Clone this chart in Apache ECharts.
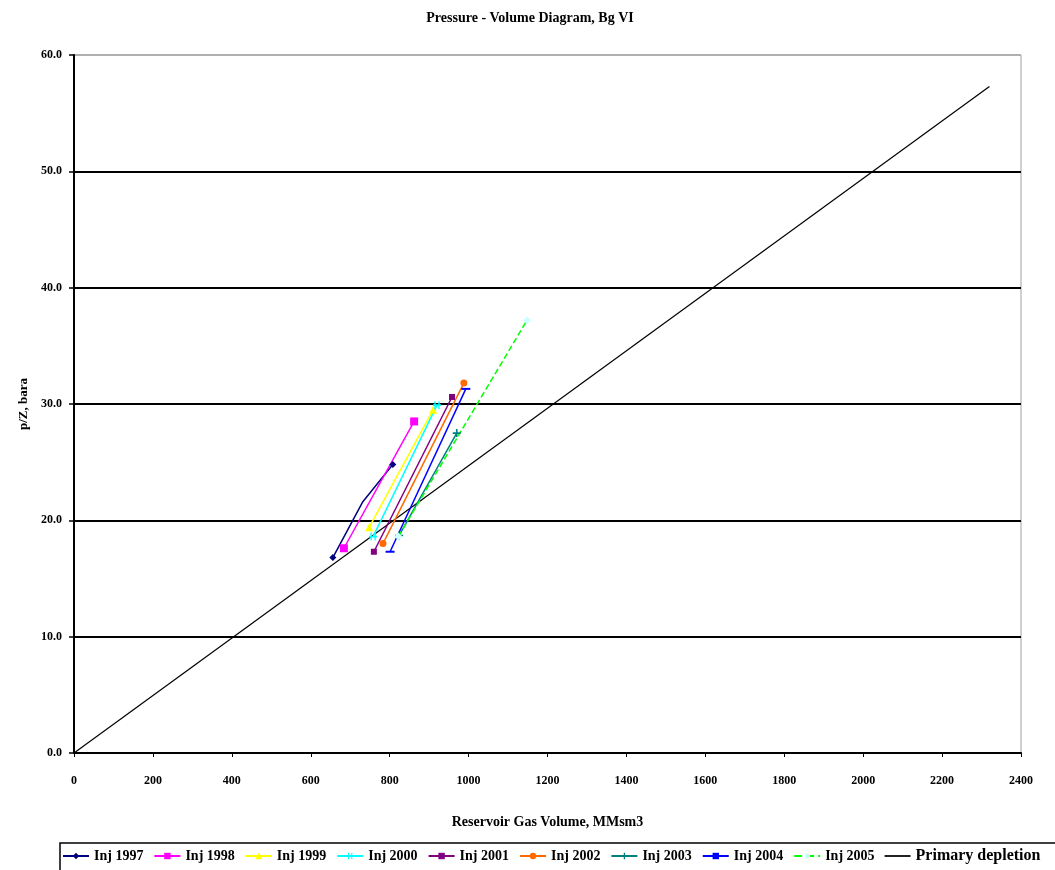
<!DOCTYPE html>
<html><head><meta charset="utf-8">
<script src="https://cdn.jsdelivr.net/npm/echarts@6/dist/echarts.min.js"></script>
<style>html,body{margin:0;padding:0;background:#fff}#c{width:1055px;height:870px}</style>
</head><body><div id="c"></div>
<script>
const seriesNames = ['Inj 1997','Inj 1998','Inj 1999','Inj 2000','Inj 2001','Inj 2002','Inj 2003','Inj 2004','Inj 2005','Primary depletion'];
const inj1997 = [[656,16.8],[732,21.6],[808,24.8]];
const inj1998 = [[684,17.6],[862,28.5]];
const inj1999 = [[748,19.4],[910,29.5]];
const inj2000 = [[758,18.6],[920,29.9]];
const inj2001 = [[760,17.3],[958,30.6]];
const inj2002 = [[783,18.0],[988,31.8]];
const inj2003 = [[824,18.7],[970,27.5]];
const inj2004 = [[801,17.3],[993,31.3]];
const inj2005 = [[822,18.6],[1148,37.2]];
const primary = [[0,0],[2320,57.3]];
const xTicks = [0,200,400,600,800,1000,1200,1400,1600,1800,2000,2200,2400];
const yTicks = [0,10,20,30,40,50,60];

const allData = [inj1997,inj1998,inj1999,inj2000,inj2001,inj2002,inj2003,inj2004,inj2005,primary];
const colors = ['#000080','#ff00ff','#ffff00','#00ffff','#800080','#ff6a00','#008080','#0000ff','#00ff00','#000000'];
const symColors = ['#000080','#ff00ff','#ffff00','#00ffff','#800080','#ff6a00','#008080','#0000ff','#ccffff','#000000'];
const symbols = ['diamond','rect','triangle','path://M0,0L2,0L2,10L0,10ZM6,0L8,0L8,10L6,10ZM-2,4L10,4L10,6L-2,6Z','rect','circle','path://M4,0L6,0L6,4L10,4L10,6L6,6L6,10L4,10L4,6L0,6L0,4L4,4Z','rect','diamond','none'];
const symSizes = [7,8,8,8,6,7,8,[9,2],8,0];
const font = 'Liberation Serif';

const series = seriesNames.map((n,i)=>({
  name:n, type:'line',
  data: allData[i].map((p,j)=>(n==='Inj 1997' && j===1) ? {value:p, symbol:'none'} : p),
  symbol: symbols[i], symbolSize: symSizes[i], showSymbol: i<9,
  lineStyle:{color:colors[i], width: i===9?1.2:1.5, type: i===8?'dashed':'solid'},
  itemStyle:{color:symColors[i], borderWidth:0},
  emphasis:{disabled:true}, animation:false, z: i===9?2:3
}));

const legendData = seriesNames.map(n => n==='Primary depletion'
  ? {name:n, icon:'path://M0,0L30,0L30,2L0,2Z', itemStyle:{color:'#000'}, textStyle:{fontSize:16}}
  : n);

const chart = echarts.init(document.getElementById('c'));
chart.setOption({
  backgroundColor:'#fff',
  animation:false,
  title:{text:'Pressure - Volume Diagram, Bg VI', left:525, textAlign:'center', top:6,
    textStyle:{fontFamily:font, fontSize:14, fontWeight:'bold', color:'#000'}},
  grid:{left:74, right:34, top:55, bottom:117, show:true, borderColor:'#a0a0a0', borderWidth:1},
  xAxis:{type:'value', min:0, max:2400, interval:200,
    name:'Reservoir Gas Volume, MMsm3', nameLocation:'middle', nameGap:62,
    nameTextStyle:{fontFamily:font, fontSize:14, fontWeight:'bold', color:'#000'},
    axisLine:{lineStyle:{color:'#000', width:2}},
    axisTick:{show:true, length:4, lineStyle:{color:'#000'}},
    axisLabel:{fontFamily:font, fontSize:12, fontWeight:'bold', color:'#000', margin:22,
      formatter:v=>xTicks.includes(v)?String(v):''},
    splitLine:{show:false}},
  yAxis:{type:'value', min:0, max:60, interval:10,
    name:'p/Z, bara', nameLocation:'middle', nameGap:40, nameRotate:90,
    nameTextStyle:{fontFamily:font, fontSize:13, fontWeight:'bold', color:'#000'},
    axisLine:{show:true, lineStyle:{color:'#000', width:2}},
    axisTick:{show:true, length:5, lineStyle:{color:'#000', width:1.5}},
    axisLabel:{fontFamily:font, fontSize:12, fontWeight:'bold', color:'#000', margin:12,
      formatter:v=>yTicks.includes(v)?v.toFixed(1):''},
    splitLine:{show:true, lineStyle:{color:['#000','#000','#000','#000','#000','#000','#b0b0b0'], width:2}}},
  legend:{data:legendData, left:60, top:843, width:1100, orient:'horizontal',
    itemWidth:26, itemHeight:8, itemGap:10, padding:[5,40,10,2],
    borderColor:'#000', borderWidth:1.5, backgroundColor:'#fff',
    textStyle:{fontFamily:font, fontSize:14, fontWeight:'bold', color:'#000'}},
  series
});
</script></body></html>
